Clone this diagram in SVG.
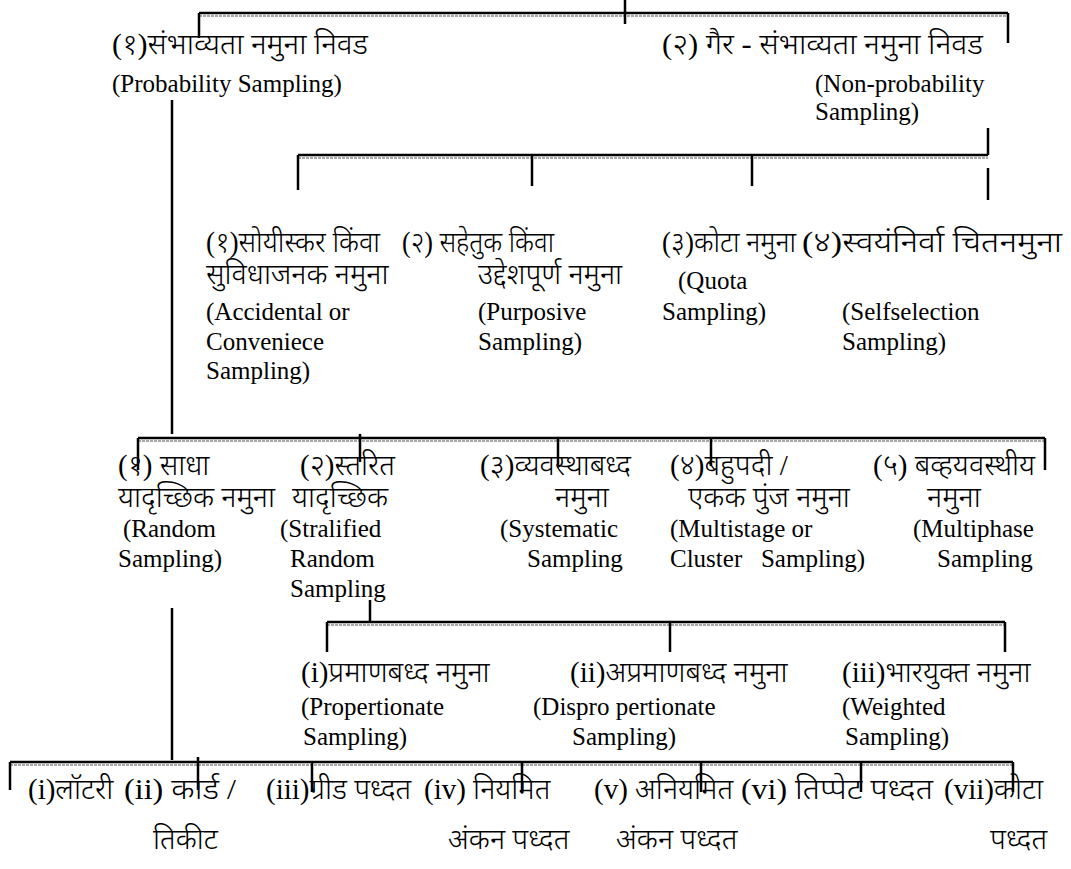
<svg xmlns="http://www.w3.org/2000/svg" width="1071" height="869" viewBox="0 0 1071 869">
<style>
.bg{fill:#ffffff}
.ln{stroke:#000;stroke-width:2.5;fill:none}
.sh{stroke:#a8a8a8;stroke-width:2;fill:none;stroke-dasharray:3 1}
text{fill:#000;font-family:'Liberation Serif','Noto Sans Devanagari','Noto Serif Devanagari',serif}
.d{font-size:29px;font-weight:300}
.e{font-size:25px}
</style>
<rect class="bg" x="0" y="0" width="1071" height="869"/>
<g id="connectors">
<path class="sh" d="M199 16H1008 M298 158H988 M138 441H1045 M327 625H1005 M10 765H1013"/>
<path class="ln" d="M199 13H1008 M625 0V24 M199 13V38 M1008 13V43"/>
<path class="ln" d="M172 100V434 M988 128V155 M298 155H988 M298 155V190 M532 155V186 M752 155V186 M988 168V200"/>
<path class="ln" d="M138 438H1045 M138 438V470 M360 434V462 M558 438V464 M711 438V466 M1045 438V470"/>
<path class="ln" d="M370 600V622 M327 622H1005 M327 622V652 M670 622V652 M1005 622V652"/>
<path class="ln" d="M172 608V760 M10 762H1013 M10 762V790 M198 757V790 M312 762V792 M522 762V792 M701 762V792 M861 762V792 M1013 762V792"/>
</g>
<g id="n-prob">
<text class="d" x="112" y="54" textLength="256" lengthAdjust="spacingAndGlyphs">(१)संभाव्यता नमुना निवड</text>
<text class="e" x="112" y="92">(Probability Sampling)</text>
</g>
<g id="n-nonprob">
<text class="d" x="662" y="54" textLength="321" lengthAdjust="spacingAndGlyphs">(२) गैर - संभाव्यता नमुना निवड</text>
<text class="e" x="815" y="92">(Non-probability</text>
<text class="e" x="815" y="120">Sampling)</text>
</g>
<g id="n-accidental">
<text class="d" x="206" y="252" textLength="174" lengthAdjust="spacingAndGlyphs">(१)सोयीस्कर किंवा</text>
<text class="d" x="206" y="284">सुविधाजनक नमुना</text>
<text class="e" x="206" y="320">(Accidental or</text>
<text class="e" x="206" y="350">Conveniece</text>
<text class="e" x="206" y="379">Sampling)</text>
</g>
<g id="n-purposive">
<text class="d" x="402" y="252" textLength="152" lengthAdjust="spacingAndGlyphs">(२) सहेतुक किंवा</text>
<text class="d" x="478" y="284">उद्देशपूर्ण नमुना</text>
<text class="e" x="478" y="320">(Purposive</text>
<text class="e" x="478" y="350">Sampling)</text>
</g>
<g id="n-quota">
<text class="d" x="662" y="252" textLength="134" lengthAdjust="spacingAndGlyphs">(३)कोटा नमुना</text>
<text class="e" x="678" y="289">(Quota</text>
<text class="e" x="662" y="320">Sampling)</text>
</g>
<g id="n-self">
<text class="d" x="802" y="252" textLength="260" lengthAdjust="spacingAndGlyphs">(४)स्वयंनिर्वा चितनमुना</text>
<text class="e" x="842" y="320">(Selfselection</text>
<text class="e" x="842" y="350">Sampling)</text>
</g>
<g id="n-random">
<text class="d" x="118" y="475">(१) साधा</text>
<text class="d" x="118" y="507">यादृच्छिक नमुना</text>
<text class="e" x="123" y="537">(Random</text>
<text class="e" x="118" y="567">Sampling)</text>
</g>
<g id="n-stratified">
<text class="d" x="300" y="475">(२)स्तरित</text>
<text class="d" x="292" y="507">यादृच्छिक</text>
<text class="e" x="280" y="537">(Stralified</text>
<text class="e" x="290" y="567">Random</text>
<text class="e" x="290" y="597">Sampling</text>
</g>
<g id="n-systematic">
<text class="d" x="480" y="475">(३)व्यवस्थाबध्द</text>
<text class="d" x="555" y="507">नमुना</text>
<text class="e" x="500" y="537">(Systematic</text>
<text class="e" x="527" y="567">Sampling</text>
</g>
<g id="n-cluster">
<text class="d" x="670" y="475">(४)बहुपदी /</text>
<text class="d" x="688" y="507">एकक पुंज नमुना</text>
<text class="e" x="670" y="537">(Multistage or</text>
<text class="e" x="670" y="567" xml:space="preserve">Cluster   Sampling)</text>
</g>
<g id="n-multiphase">
<text class="d" x="873" y="475">(५) बव्हयवस्थीय</text>
<text class="d" x="927" y="507">नमुना</text>
<text class="e" x="913" y="537">(Multiphase</text>
<text class="e" x="937" y="567">Sampling</text>
</g>
<g id="n-proportionate">
<text class="d" x="301" y="682">(i)प्रमाणबध्द नमुना</text>
<text class="e" x="301" y="715">(Propertionate</text>
<text class="e" x="303" y="745">Sampling)</text>
</g>
<g id="n-disproportionate">
<text class="d" x="570" y="682">(ii)अप्रमाणबध्द नमुना</text>
<text class="e" x="533" y="715">(Dispro pertionate</text>
<text class="e" x="572" y="745">Sampling)</text>
</g>
<g id="n-weighted">
<text class="d" x="842" y="682">(iii)भारयुक्त नमुना</text>
<text class="e" x="842" y="715">(Weighted</text>
<text class="e" x="845" y="745">Sampling)</text>
</g>
<g id="n-lottery"><text class="d" x="28" y="799">(i)लॉटरी</text></g>
<g id="n-card">
<text class="d" x="124" y="799" textLength="112" lengthAdjust="spacingAndGlyphs">(ii) कार्ड /</text>
<text class="d" x="153" y="849">तिकीट</text>
</g>
<g id="n-grid"><text class="d" x="266" y="799">(iii)ग्रीड पध्दत</text></g>
<g id="n-regular">
<text class="d" x="424" y="799">(iv) नियमित</text>
<text class="d" x="448" y="849">अंकन पध्दत</text>
</g>
<g id="n-irregular">
<text class="d" x="594" y="799">(v) अनियमित</text>
<text class="d" x="616" y="849">अंकन पध्दत</text>
</g>
<g id="n-tippet"><text class="d" x="741" y="799" textLength="192" lengthAdjust="spacingAndGlyphs">(vi) तिप्पेट पध्दत</text></g>
<g id="n-quotamethod">
<text class="d" x="944" y="799">(vii)कोटा</text>
<text class="d" x="990" y="849">पध्दत</text>
</g>
</svg>
